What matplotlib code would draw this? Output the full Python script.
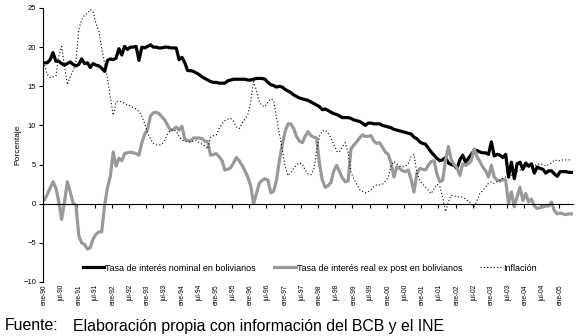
import matplotlib.pyplot as plt
import numpy as np

plt.rcParams['font.family'] = ['Liberation Sans', 'DejaVu Sans']

# monthly series, ene-90 .. may-05
nominal = [18.0, 18.0, 18.4, 19.3, 18.2, 18.2, 17.9, 17.7, 17.9, 18.1, 17.8,
           17.6, 17.8, 18.5, 17.9, 18.0, 17.4, 17.9, 17.7, 17.6, 17.3,
           16.9, 18.3, 18.5, 18.4, 18.6, 19.8, 19.0, 20.1, 19.7, 20.0,
           20.0, 20.1, 18.3, 20.0, 19.9, 20.1, 20.3, 20.0, 20.0, 19.9,
           19.9, 20.0, 20.0, 19.9, 19.9, 19.9, 18.4, 18.7, 18.0, 17.0,
           17.0, 16.9, 16.7, 16.5, 16.2, 16.0, 15.8, 15.6, 15.5, 15.5,
           15.4, 15.4, 15.4, 15.7, 15.8, 15.9, 15.9, 15.9, 15.9, 15.9,
           15.8, 15.8, 15.9, 16.0, 16.0, 16.0, 15.9, 15.5, 15.2, 15.1,
           14.9, 15.0, 14.9, 14.6, 14.4, 14.2, 13.9, 13.7, 13.5, 13.4,
           13.3, 13.2, 13.0, 12.8, 12.6, 12.4, 12.0, 12.1, 11.9, 11.7,
           11.5, 11.4, 11.2, 11.0, 11.0, 11.0, 10.9, 10.7, 10.6, 10.5,
           10.3, 10.0, 10.3, 10.3, 10.2, 10.2, 10.2, 10.0, 9.9, 9.8,
           9.7, 9.5, 9.4, 9.3, 9.2, 9.1, 9.0, 8.9, 8.5, 8.3,
           7.9, 7.7, 7.6, 7.1, 6.6, 6.2, 5.8, 5.5, 5.6, 5.9,
           5.2, 5.0, 4.9, 4.5, 5.6, 6.2, 5.3, 5.8, 6.3, 6.8,
           6.8, 6.6, 6.5, 6.5, 6.3, 7.9, 6.1, 6.3, 6.2, 5.9,
           6.3, 3.4, 5.3, 3.2, 5.1, 5.3, 4.4, 5.2, 4.8, 5.1,
           3.9, 4.7, 4.5, 4.4, 3.9, 4.2, 4.2, 3.8, 3.5, 4.1,
           4.1, 4.1, 4.0, 4.0]

real = [0.5, 1.2, 2.0, 2.8, 2.0, 0.3, -2.0, 0.2, 2.8, 1.5, 0.1,
        -0.2, -4.1, -5.0, -5.2, -5.8, -5.6, -4.5, -3.9, -3.6, -3.6,
        -0.2, 2.0, 3.5, 6.6, 4.8, 5.8, 5.5, 6.4, 6.5, 6.6,
        6.5, 6.4, 6.2, 7.8, 8.9, 9.5, 11.2, 11.6, 11.7, 11.5,
        11.1, 10.7, 10.0, 9.4, 9.5, 9.8, 9.4, 9.9, 8.2, 8.1,
        8.0, 8.4, 8.4, 8.4, 8.3, 8.0, 7.9, 6.2, 6.3, 6.4,
        6.0, 5.5, 4.3, 4.4, 4.6, 5.2, 5.9, 5.5, 4.9, 4.2,
        3.4, 2.3, 0.0, 1.3, 2.6, 3.0, 3.2, 3.0, 1.4, 1.6,
        3.0, 5.5, 7.5, 9.2, 10.2, 10.2, 9.6, 8.6, 8.0, 7.8,
        8.6, 9.2, 8.7, 8.5, 8.4, 5.1, 3.0, 2.1, 2.3, 2.7,
        4.2, 4.9, 4.1, 3.3, 2.8, 2.9, 7.0, 7.5, 7.9, 8.4,
        8.8, 8.6, 8.6, 8.7, 8.0, 7.7, 7.8, 7.2, 6.6, 6.3,
        5.2, 3.4, 4.7, 4.5, 4.2, 4.1, 4.3, 3.1, 1.5, 3.9,
        4.5, 4.4, 4.3, 4.9, 5.4, 5.5, 3.8, 2.8, 3.0, 5.5,
        7.3, 5.6, 5.0, 4.6, 3.6, 5.1, 4.9, 5.1, 5.5, 7.0,
        6.0, 5.4, 4.7, 4.2, 3.4, 4.9, 3.4, 3.0, 2.9, 3.1,
        3.0, 0.0, 1.5, -0.4, 0.9, 2.1, 0.4, 1.3, 0.2, 0.6,
        -0.3, -0.6, -0.5, -0.4, -0.3, -0.3, 0.2, -0.9, -1.3, -1.2,
        -1.3, -1.4, -1.3, -1.3]

inflacion = [17.7, 16.5, 16.1, 16.2, 16.3, 18.8, 20.1, 17.6, 15.2, 16.2, 17.0,
             18.2, 22.3, 23.5, 24.1, 24.3, 24.8, 24.5, 23.0, 22.0, 19.8,
             18.0, 16.0, 13.6, 11.3, 13.0, 13.1, 13.0, 12.8, 12.6, 12.5,
             12.3, 12.1, 11.8, 11.2, 10.2, 9.0, 8.3, 7.7, 7.5, 7.5,
             7.6, 8.1, 8.9, 9.4, 9.4, 9.3, 8.6, 8.1, 8.0, 7.9,
             7.9, 8.0, 8.1, 7.8, 7.6, 7.4, 7.0, 8.5, 8.7, 8.8,
             9.6, 10.2, 10.6, 10.8, 10.9, 10.5, 9.8, 9.6, 10.3, 10.8,
             11.4, 13.0, 15.6, 14.5, 13.0, 12.5, 12.4, 13.0, 13.4, 13.2,
             11.0, 9.0, 7.0, 4.8, 3.6, 4.0, 4.5, 5.0, 5.2, 5.1,
             4.3, 3.8, 3.7, 4.3, 6.8, 8.6, 9.3, 9.4, 9.0, 8.4,
             7.6, 6.7, 6.6, 7.3, 7.8, 6.5, 4.0, 3.2, 2.5, 1.8,
             1.6, 1.4, 1.5, 1.8, 2.2, 2.4, 2.4, 2.5, 2.9, 3.4,
             4.8, 5.4, 5.1, 4.8, 4.7, 4.8, 5.1, 6.0, 6.3, 3.9,
             3.0, 2.5, 2.1, 1.7, 1.3, 1.9, 2.5, 2.2, 0.8, -1.0,
             0.2, 1.1, 1.0, 0.9, 0.9, 0.8, 0.6, 0.3, 0.0, -0.4,
             0.4, 1.3, 1.7, 2.1, 2.6, 2.8, 2.6, 2.8, 3.0, 3.3,
             3.4, 3.5, 3.6, 3.8, 4.1, 4.3, 4.4, 4.7, 4.7, 4.7,
             4.9, 5.0, 5.1, 5.0, 4.8, 5.0, 5.2, 5.6, 5.5, 5.5,
             5.6, 5.6, 5.6, 5.6]

etiquetas = ['ene-90', 'jul-90', 'ene-91', 'jul-91', 'ene-92', 'jul-92',
             'ene-93', 'jul-93', 'ene-94', 'jul-94', 'ene-95', 'jul-95',
             'ene-96', 'jul-96', 'ene-97', 'jul-97', 'ene-98', 'jul-98',
             'ene-99', 'jul-99', 'ene-00', 'jul-00', 'ene-01', 'jul-01',
             'ene-02', 'jul-02', 'ene-03', 'jul-03', 'ene-04', 'jul-04',
             'ene-05']

x = np.arange(len(nominal))

fig = plt.figure(figsize=(5.78, 3.36), dpi=100)
ax = fig.add_axes([43 / 578, 54 / 336, 530 / 578, 274 / 336])

ax.plot(x, nominal, color='black', lw=2.3, label='Tasa de interés nominal en bolivianos')
ax.plot(x, real, color='#999999', lw=2.3, label='Tasa de interés real ex post en bolivianos')
ax.plot(x, inflacion, color='black', lw=0.8, ls=(0, (1, 2)), label='Inflación')

ax.set_xlim(-0.5, len(x) - 0.5)
ax.set_ylim(-10, 25)
ax.set_yticks(range(-10, 26, 5))
ax.tick_params(axis='y', labelsize=5.5, length=3, width=0.8, pad=2)

ax.spines['top'].set_visible(False)
ax.spines['right'].set_visible(False)
ax.spines['bottom'].set_position(('data', 0))
ax.spines['left'].set_linewidth(0.8)
ax.spines['bottom'].set_linewidth(0.8)
ax.set_xticks(np.arange(5.5, len(x), 6))
ax.tick_params(axis='x', labelbottom=False, length=3, width=0.8)

sec = ax.secondary_xaxis('bottom')
sec.set_xticks(np.arange(0, len(x), 6), etiquetas, rotation=90, fontsize=4.8)
sec.tick_params(length=0, pad=2)
sec.spines['bottom'].set_visible(False)

ax.set_ylabel('Porcentaje', fontsize=6, labelpad=1)

ax.legend(loc='center', bbox_to_anchor=(0.503, 0.051), ncol=3, frameon=False,
          fontsize=6.5, handlelength=2.4, columnspacing=2.0, handletextpad=0.1)

fig.text(5 / 578, 1 - 326 / 336, 'Fuente:', va='center', fontsize=11.4)
fig.text(73 / 578, 1 - 326 / 336, 'Elaboración propia con información del BCB y el INE',
         va='center', fontsize=11.4)

fig.savefig('out.png', dpi=100)
